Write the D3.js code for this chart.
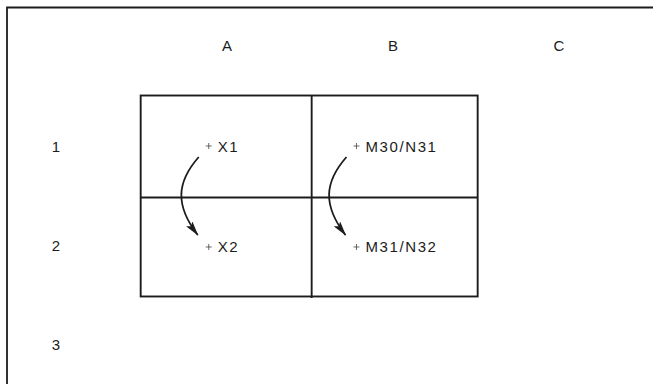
<!DOCTYPE html>
<html><head><meta charset="utf-8">
<script src="https://cdn.jsdelivr.net/npm/d3@7"></script>
<style>
html,body{margin:0;padding:0;background:#fff;}
text{font-family:"Liberation Sans",Arial,sans-serif;fill:#1c1c1c;}
</style></head>
<body>
<svg id="chart" width="653" height="384"></svg>
<script>
const columns = ["A", "B", "C"];
const rows = ["1", "2", "3"];
const colEdges = [-0.52, 0.51, 1.51];
const rowEdges = [-0.51, 0.52, 1.52];
const pointLabels = ["X1", "X2", "M30/N31", "M31/N32"];
const pointCols = [-0.11, -0.11, 0.78, 0.78];
const pointRows = [0.0, 1.02, 0.0, 1.02];
const moves = [[0, 1], [2, 3]];

const svg = d3.select("#chart");
const ink = "#1c1c1c";

const x = d3.scaleLinear().domain([0, 2]).range([227, 559]);
const y = d3.scaleLinear().domain([0, 2]).range([146, 344]);

// outer frame
svg.append("path")
  .attr("d", `M7,390 L7,7.5 L660,7.5`)
  .attr("fill", "none").attr("stroke", ink).attr("stroke-width", 1.8);

// column & row labels
svg.selectAll("text.col").data(columns).join("text")
  .attr("class", "col")
  .attr("x", (d, i) => x(i)).attr("y", 45)
  .attr("text-anchor", "middle").attr("dominant-baseline", "central")
  .attr("font-size", 15).text(d => d);
svg.selectAll("text.row").data(rows).join("text")
  .attr("class", "row")
  .attr("x", 56).attr("y", (d, i) => y(i))
  .attr("text-anchor", "middle").attr("dominant-baseline", "central")
  .attr("font-size", 15).text(d => d);

// grid
const gx0 = x(colEdges[0]), gx1 = x(colEdges[colEdges.length - 1]);
const gy0 = y(rowEdges[0]), gy1 = y(rowEdges[rowEdges.length - 1]);
const g = svg.append("g").attr("stroke", ink).attr("stroke-width", 1.9).attr("fill", "none");
g.append("rect").attr("x", gx0).attr("y", gy0).attr("width", gx1 - gx0).attr("height", gy1 - gy0);
colEdges.slice(1, -1).forEach(c =>
  g.append("line").attr("x1", x(c)).attr("x2", x(c)).attr("y1", gy0).attr("y2", gy1 + 1.5));
rowEdges.slice(1, -1).forEach(r =>
  g.append("line").attr("x1", gx0).attr("x2", gx1).attr("y1", y(r)).attr("y2", y(r)));

// points
const pts = pointLabels.map((l, i) => ({label: l, px: x(pointCols[i]), py: y(pointRows[i])}));
const pg = svg.append("g");
pts.forEach(p => {
  pg.append("path").attr("d", `M${p.px - 3},${p.py} h6 M${p.px},${p.py - 3} v6`)
    .attr("stroke", "#444").attr("stroke-width", 0.8);
  pg.append("text").attr("x", p.px + 9).attr("y", p.py)
    .attr("dominant-baseline", "central").attr("font-size", 15)
    .attr("letter-spacing", "1.6px").text(p.label);
});

// arrows
svg.append("defs").append("marker")
  .attr("id", "ah").attr("viewBox", "0 0 15 8").attr("refX", 14).attr("refY", 4)
  .attr("markerWidth", 15).attr("markerHeight", 8).attr("markerUnits", "userSpaceOnUse")
  .attr("orient", "auto")
  .append("path").attr("d", "M0,0 L15,4 L0,8 L3,4 Z").attr("fill", ink);

moves.forEach(([a, b]) => {
  const p = pts[a], q = pts[b];
  const sx = p.px - 10, sy = p.py + 11;
  const ex = q.px - 11, ey = q.py - 12;
  const path = d3.path();
  path.moveTo(sx, sy);
  path.bezierCurveTo(sx - 22, sy + 25, sx - 24, ey - 30, ex, ey);
  svg.append("path").attr("d", path.toString())
    .attr("fill", "none").attr("stroke", ink).attr("stroke-width", 1.8)
    .attr("marker-end", "url(#ah)");
});
</script>
</body></html>
